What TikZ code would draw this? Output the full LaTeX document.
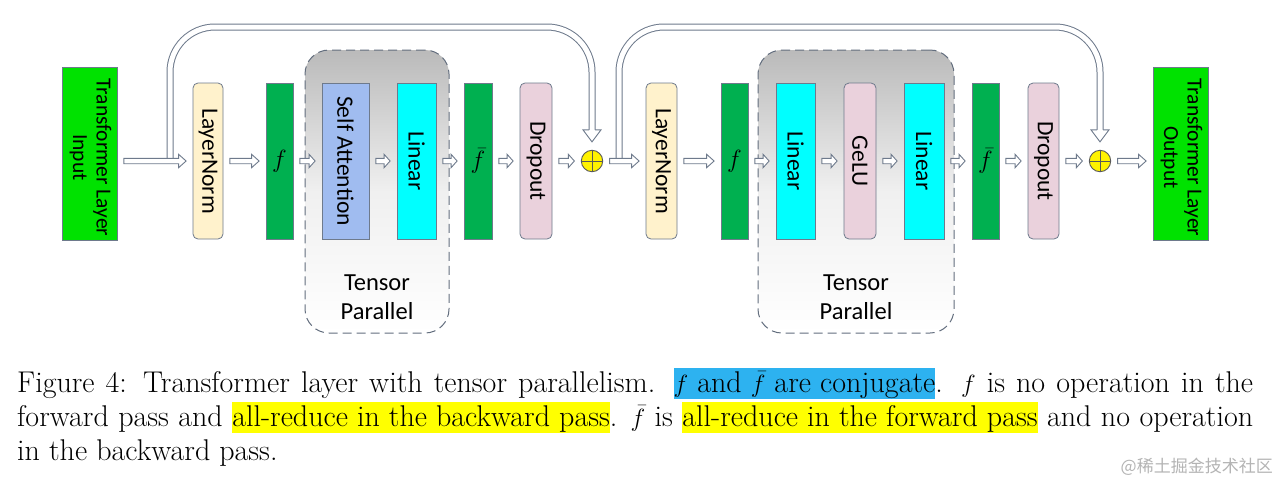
\documentclass[tikz,border=0pt]{standalone}
\usepackage{fontspec}
\usetikzlibrary{calc}
\newfontfamily\boxfont{Carlito}
\newfontfamily\cjkfont{Noto Sans CJK SC}
\definecolor{linec}{RGB}{110,122,140}
\definecolor{brightgreen}{RGB}{0,226,0}
\definecolor{darkgreen}{RGB}{0,176,80}
\definecolor{lnfill}{RGB}{255,242,204}
\definecolor{safill}{RGB}{160,188,240}
\definecolor{cyanfill}{RGB}{0,255,255}
\definecolor{pinkfill}{RGB}{234,209,220}
\definecolor{hlblue}{RGB}{45,178,240}
\definecolor{hlyellow}{RGB}{255,255,0}
\definecolor{wmgray}{RGB}{180,180,180}
\newcommand\hlb[1]{{\setlength\fboxsep{0pt}\colorbox{hlblue}{\rule[-6.5pt]{0pt}{31pt}#1}}}
\newcommand\hly[1]{{\setlength\fboxsep{0pt}\colorbox{hlyellow}{\rule[-6.5pt]{0pt}{31pt}#1}}}
% horizontal hollow arrow from node #1 to node #2, head length #3
\newcommand\harrow[3]{%
  \draw[arrowline] let \p1=(#1.east), \p2=(#2.west), \p3=(row) in
    (\x1+6.5pt,\y3+2.7pt) -- (\x2-6.5pt-#3,\y3+2.7pt) -- (\x2-6.5pt-#3,\y3+6.7pt)
    -- (\x2-6.5pt,\y3) -- (\x2-6.5pt-#3,\y3-6.7pt) -- (\x2-6.5pt-#3,\y3-2.7pt)
    -- (\x1+6.5pt,\y3-2.7pt) -- cycle;}
% head of a skip connection, above node #1
\newcommand\skiphead[1]{%
  \draw[arrowline] let \p1=(#1.north) in
    (\x1-3pt,\y1+20pt) -- (\x1-9pt,\y1+20pt) -- (\x1,\y1+8pt)
    -- (\x1+9pt,\y1+20pt) -- (\x1+3pt,\y1+20pt);}
\begin{document}
\begin{tikzpicture}[x=1pt,y=-1pt,
  box/.style={draw=linec, line width=0.8pt, inner sep=0pt, minimum height=156pt,
    font=\boxfont\fontsize{23.5}{24}\selectfont},
  rbox/.style={box, rounded corners=5pt},
  iobox/.style={box, fill=brightgreen, minimum width=55pt, minimum height=173pt,
    font=\boxfont\fontsize{21.5}{23.5}\selectfont},
  fbox/.style={box, fill=darkgreen, font=\fontsize{28}{30}\selectfont},
  tpbox/.style={draw=linec!90!black, line width=1pt, dash pattern=on 9pt off 5pt,
    rounded corners=24pt, top color=black!27, bottom color=white, middle color=black!6,
    inner sep=0pt},
  tplabel/.style={align=center, font=\boxfont\fontsize{24.5}{29}\selectfont},
  plus/.style={circle, draw=black!65, line width=0.9pt, fill=yellow, minimum size=21.4pt, inner sep=0pt},
  arrowline/.style={draw=linec, line width=0.9pt, fill=white, line join=miter},
  skip/.style={draw=linec, line width=1pt, double=white, double distance=5pt, rounded corners=45pt}
]
\useasboundingbox (0,0) rectangle (1280,485);
\fill[white] (0,0) rectangle (1280,485);
\coordinate (row) at (0,161);
\coordinate (skiptop) at (0,27);

% tensor parallel regions
\node[tpbox, minimum width=144pt, minimum height=283pt] (tp1) at (377,191.5) {};
\node[tpbox, minimum width=196pt, minimum height=283pt] (tp2) at (856,191.5) {};
\node[tplabel] (tpl1) at (377,297) {Tensor\\Parallel};
\node[tplabel] (tpl2) at (856,297) {Tensor\\Parallel};

% blocks
\node[iobox] (in) at (89.5,153.5) {\rotatebox{-90}{\hspace{8pt}\begin{tabular}{@{}c@{}}Transformer Layer\\Input\end{tabular}}};
\node[rbox, fill=lnfill, minimum width=30pt] (ln1) at (208,161) {\rotatebox{-90}{LayerNorm}};
\node[fbox, minimum width=27pt] (f1) at (279.5,161) {$f$};
\node[box, fill=safill, minimum width=47pt] (sa) at (345.5,161) {\rotatebox{-90}{Self Attention}};
\node[box, fill=cyanfill, minimum width=39pt] (lin1) at (416.5,161) {\rotatebox{-90}{Linear}};
\node[fbox, minimum width=28pt] (fb1) at (478,161) {$\bar{f}$};
\node[rbox, fill=pinkfill, minimum width=32pt] (do1) at (536,161) {\rotatebox{-90}{Dropout}};
\node[plus] (c1) at (592,161) {};
\draw[black!65, line width=0.9pt] (c1.north) -- (c1.south) (c1.west) -- (c1.east);

\node[rbox, fill=lnfill, minimum width=31pt] (ln2) at (661.5,161) {\rotatebox{-90}{LayerNorm}};
\node[fbox, minimum width=27pt] (f2) at (734.5,161) {$f$};
\node[box, fill=cyanfill, minimum width=39pt] (lin2) at (795.5,161) {\rotatebox{-90}{Linear}};
\node[rbox, fill=pinkfill, minimum width=32pt] (gelu) at (860,161) {\rotatebox{-90}{GeLU}};
\node[box, fill=cyanfill, minimum width=40pt] (lin3) at (924,161) {\rotatebox{-90}{Linear}};
\node[fbox, minimum width=27pt] (fb2) at (985.5,161) {$\bar{f}$};
\node[rbox, fill=pinkfill, minimum width=31pt] (do2) at (1043.5,161) {\rotatebox{-90}{Dropout}};
\node[plus] (c2) at (1100,161) {};
\draw[black!65, line width=0.9pt] (c2.north) -- (c2.south) (c2.west) -- (c2.east);
\node[iobox] (out) at (1180.5,153.5) {\rotatebox{-90}{\hspace{8pt}\begin{tabular}{@{}c@{}}Transformer Layer\\Output\end{tabular}}};

% skip connections
\coordinate (s1) at (170,159);
\coordinate (s2) at (619,159);
\draw[skip] (s1) |- (skiptop -| c1) -- ($(c1.north)+(0,-19)$);
\draw[skip] (s2) |- (skiptop -| c2) -- ($(c2.north)+(0,-19)$);
\skiphead{c1}
\skiphead{c2}

% main flow arrows
\harrow{in}{ln1}{7.5pt}
\harrow{ln1}{f1}{7.5pt}
\harrow{f1}{sa}{6pt}
\harrow{sa}{lin1}{6pt}
\harrow{lin1}{fb1}{6pt}
\harrow{fb1}{do1}{6pt}
\harrow{do1}{c1}{6pt}
\harrow{c1}{ln2}{7.5pt}
\harrow{ln2}{f2}{7.5pt}
\harrow{f2}{lin2}{6pt}
\harrow{lin2}{gelu}{6pt}
\harrow{gelu}{lin3}{6pt}
\harrow{lin3}{fb2}{6pt}
\harrow{fb2}{do2}{6pt}
\harrow{do2}{c2}{6pt}
\harrow{c2}{out}{7.5pt}

% caption
\node[anchor=base west, inner sep=0pt] (cap) at (17,392) {\parbox[t]{1236pt}{\fontsize{30}{34}\selectfont
Figure 4: Transformer layer with tensor parallelism. \hlb{$f$ and $\bar{f}$ are conjugate}. $f$ is no operation in the\linebreak
forward pass and \hly{all-reduce in the backward pass}. $\bar{f}$ is \hly{all-reduce in the forward pass} and no operation\linebreak
in the backward pass.}};

% watermark
\node[anchor=east, inner sep=0pt, text=wmgray, font=\cjkfont\fontsize{17}{19}\selectfont] (wm) at (1273,467) {@稀土掘金技术社区};
\end{tikzpicture}
\end{document}
